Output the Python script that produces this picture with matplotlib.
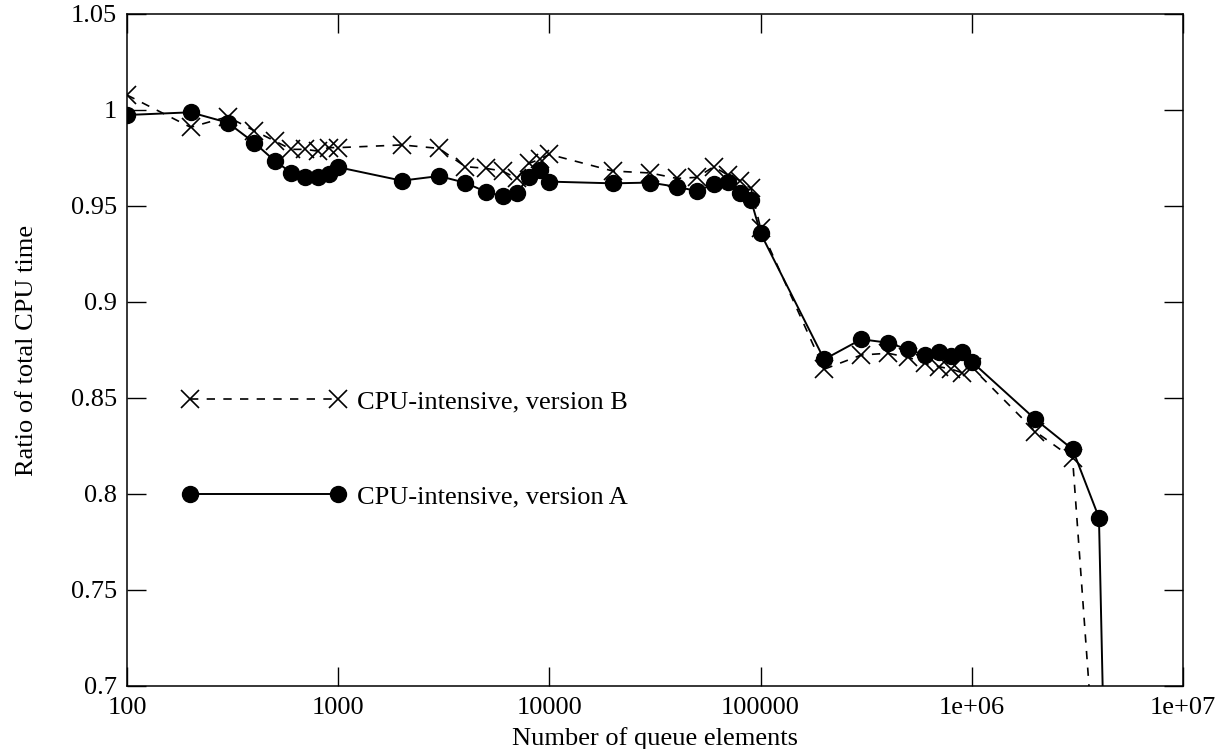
import matplotlib
matplotlib.use("Agg")
import matplotlib.pyplot as plt
from matplotlib.ticker import FixedLocator, NullLocator, FixedFormatter

plt.rcParams['font.family'] = ['Liberation Serif', 'DejaVu Serif']

# Data
x_a = [100, 200, 300, 400, 500, 600, 700, 800, 900, 1000,
       2000, 3000, 4000, 5000, 6000, 7000, 8000, 9000, 10000,
       20000, 30000, 40000, 50000, 60000, 70000, 80000, 90000, 100000,
       200000, 300000, 400000, 500000, 600000, 700000, 800000, 900000, 1000000,
       2000000, 3000000, 4000000, 5000000]
y_a = [0.9974, 0.9988, 0.9934, 0.983, 0.9736, 0.9673, 0.9649, 0.9649, 0.9667, 0.9702,
       0.9632, 0.9656, 0.9621, 0.9574, 0.9552, 0.9566, 0.9653, 0.9688, 0.9627,
       0.9618, 0.9622, 0.9600, 0.9578, 0.9613, 0.9627, 0.9569, 0.9531, 0.9358,
       0.8701, 0.8806, 0.8788, 0.8753, 0.8724, 0.8741, 0.8719, 0.8741, 0.8689,
       0.8389, 0.8233, 0.7877, 0.30]

x_b = [100, 200, 300, 400, 500, 600, 700, 800, 900, 1000,
       2000, 3000, 4000, 5000, 6000, 7000, 8000, 9000, 10000,
       20000, 30000, 40000, 50000, 60000, 70000, 80000, 90000, 100000,
       200000, 300000, 400000, 500000, 600000, 700000, 800000, 900000, 1000000,
       2000000, 3000000, 4000000]
y_b = [1.0078, 0.991, 0.9965, 0.9892, 0.9839, 0.9795, 0.9795, 0.9786, 0.9804, 0.9804,
       0.9818, 0.9800, 0.9705, 0.9696, 0.9682, 0.9644, 0.9722, 0.9743, 0.9769,
       0.9682, 0.9672, 0.9644, 0.9649, 0.9705, 0.9661, 0.9632, 0.9592, 0.9384,
       0.8650, 0.8724, 0.8733, 0.8712, 0.8680, 0.8663, 0.8650, 0.8632, 0.8660,
       0.8325, 0.8186, 0.628]

label_a = "CPU-intensive, version A"
label_b = "CPU-intensive, version B"

x_ticks = [100, 1000, 10000, 100000, 1000000, 10000000]
x_ticklabels = ["100", "1000", "10000", "100000", "1e+06", "1e+07"]
y_ticks = [0.7, 0.75, 0.8, 0.85, 0.9, 0.95, 1.0, 1.05]
y_ticklabels = ["0.7", "0.75", "0.8", "0.85", "0.9", "0.95", "1", "1.05"]

fig = plt.figure(figsize=(12.26, 7.49), dpi=100)
ax = fig.add_axes([127/1226, 1 - 686/749, (1183-127)/1226, (686-14)/749])

ax.plot(x_b, y_b, color='black', lw=1.2, linestyle=(0, (5, 5)),
        marker='x', markersize=12.5, markeredgewidth=1.2, label=label_b, clip_on=True)
ax.plot(x_a, y_a, color='black', lw=1.4, linestyle='-',
        marker='o', markersize=11.5, label=label_a, clip_on=True)

ax.set_xscale('log')
ax.set_xlim(100, 1e7)
ax.set_ylim(0.7, 1.05)
ax.xaxis.set_major_locator(FixedLocator(x_ticks))
ax.xaxis.set_major_formatter(FixedFormatter(x_ticklabels))
ax.xaxis.set_minor_locator(NullLocator())
ax.yaxis.set_major_locator(FixedLocator(y_ticks))
ax.yaxis.set_major_formatter(FixedFormatter(y_ticklabels))
ax.yaxis.set_minor_locator(NullLocator())

ax.tick_params(which='major', direction='in', length=13.5, width=1.0,
               top=True, right=True, labelsize=19, colors='black')
ax.tick_params(axis='x', pad=8)
ax.tick_params(axis='y', pad=7)
for s in ax.spines.values():
    s.set_linewidth(1.1)

ax.set_xlabel("Number of queue elements", fontsize=19, labelpad=5.5)
ax.set_ylabel("Ratio of total CPU time", fontsize=19, labelpad=24)

leg = ax.legend(loc='upper left', bbox_to_anchor=(182/1226, 1 - 390/749),
                bbox_transform=fig.transFigure, frameon=False, fontsize=19,
                numpoints=2, handlelength=6.2, handletextpad=0.45,
                labelspacing=2.72, borderpad=0, borderaxespad=0)

fig.savefig("out.png", dpi=100)
